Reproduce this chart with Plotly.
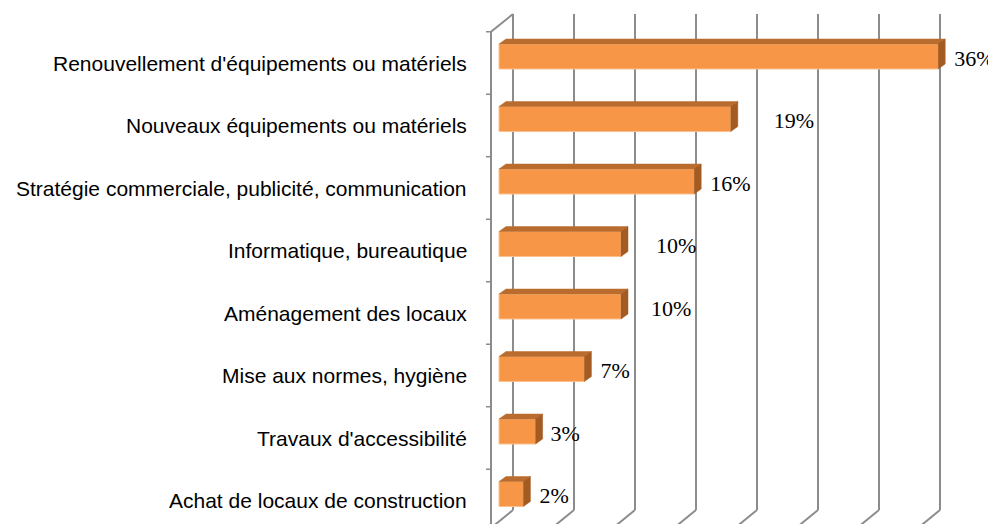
import plotly.graph_objects as go

# Data
categories = [
    "Renouvellement d'équipements ou matériels",
    "Nouveaux équipements ou matériels",
    "Stratégie commerciale, publicité, communication",
    "Informatique, bureautique",
    "Aménagement des locaux",
    "Mise aux normes, hygiène",
    "Travaux d'accessibilité",
    "Achat de locaux de construction",
]
values = [36, 19, 16, 10, 10, 7, 3, 2]
value_labels = ["36%", "19%", "16%", "10%", "10%", "7%", "3%", "2%"]
grid_ticks = [0, 5, 10, 15, 20, 25, 30, 35]

# label nudges (pixels right of bar end), as placed in the original
label_nudge_px = [16, 43, 16, 35, 30, 16, 15, 16]

OFF = 8            # page body margin
W, H = 996 - OFF, 524 - OFF
PX_PCT = 12.2      # pixels per percent
X0 = 499 - OFF     # pixel of 0% on the bar front plane
PX_SLOT = 62.5     # pixels per category
Y0 = 63 - OFF      # pixel of first category centre


def dx(p):
    return p / PX_PCT


def dy(p):
    return p / PX_SLOT


# 3D offsets
bar_dx, bar_dy = dx(7), dy(5)
wall_dx = dx(14)
axis_x = dx(-8)
top_y, bot_y = dy(14 - 63), dy(510 - 63)

front_col = "#F79646"
top_col = "#BA6C2E"
side_col = "#A35B22"
grid_col = "#8C8C8C"

fig = go.Figure()

shapes = []
for t in grid_ticks:
    xb = t + wall_dx
    shapes.append(dict(type="line", xref="x", yref="y", x0=xb, x1=xb, y0=top_y, y1=bot_y,
                       line=dict(color=grid_col, width=2), layer="below"))
    shapes.append(dict(type="line", xref="x", yref="y", x0=xb, x1=xb - dx(22), y0=bot_y,
                       y1=bot_y + dy(18), line=dict(color=grid_col, width=2), layer="below"))
# left wall front edge + top edge
shapes.append(dict(type="line", xref="x", yref="y", x0=axis_x, x1=axis_x, y0=-0.5,
                   y1=bot_y + dy(30), line=dict(color=grid_col, width=2), layer="below"))
shapes.append(dict(type="line", xref="x", yref="y", x0=axis_x, x1=wall_dx, y0=-0.5,
                   y1=top_y, line=dict(color=grid_col, width=2), layer="below"))
for j in range(len(categories) + 1):
    shapes.append(dict(type="line", xref="x", yref="y", x0=axis_x, x1=axis_x - dx(5),
                       y0=j - 0.5, y1=j - 0.5, line=dict(color=grid_col, width=1.5), layer="below"))

# bar geometry
bar_h = dy(25)
centres = [i - dy(6.5) for i in range(len(values))]

tx, ty, sx, sy = [], [], [], []
for c, v in zip(centres, values):
    yt, yb = c - bar_h / 2, c + bar_h / 2
    tx += [0, v, v + bar_dx, bar_dx, 0, None]
    ty += [yt, yt, yt - bar_dy, yt - bar_dy, yt, None]
    sx += [v, v + bar_dx, v + bar_dx, v, v, None]
    sy += [yt, yt - bar_dy, yb - bar_dy, yb, yt, None]

fig.add_trace(go.Scatter(x=tx, y=ty, mode="lines", fill="toself", fillcolor=top_col,
                         line=dict(color=top_col, width=0.5), hoverinfo="skip"))
fig.add_trace(go.Scatter(x=sx, y=sy, mode="lines", fill="toself", fillcolor=side_col,
                         line=dict(color=side_col, width=0.5), hoverinfo="skip"))

fig.add_trace(go.Bar(
    x=values, y=centres, orientation="h", base=0, width=bar_h,
    marker=dict(color=front_col, line=dict(color="#FAC090", width=1)),
    hovertext=categories, hoverinfo="text+x",
))

fig.add_trace(go.Scatter(
    x=[v + dx(n) for v, n in zip(values, label_nudge_px)],
    y=[i - dy(3) for i in range(len(values))],
    mode="text", text=value_labels, textposition="middle right",
    textfont=dict(family="Liberation Serif", size=22, color="#000000"),
    cliponaxis=False, hoverinfo="skip",
))

for i, cat in enumerate(categories):
    fig.add_annotation(x=dx(469 - 499), y=i, text=cat, showarrow=False, xanchor="right",
                       yanchor="middle", xref="x", yref="y",
                       font=dict(family="Liberation Sans, Arial", size=21, color="#000000"))

fig.update_layout(
    width=W, height=H,
    margin=dict(l=0, r=0, t=0, b=0),
    plot_bgcolor="white", paper_bgcolor="white",
    showlegend=False,
    shapes=shapes,
    xaxis=dict(range=[dx(-X0), dx(W - X0)], visible=False, fixedrange=True),
    yaxis=dict(range=[dy(H - Y0), dy(-Y0)], visible=False, fixedrange=True),
)

fig.write_html("out.html")
